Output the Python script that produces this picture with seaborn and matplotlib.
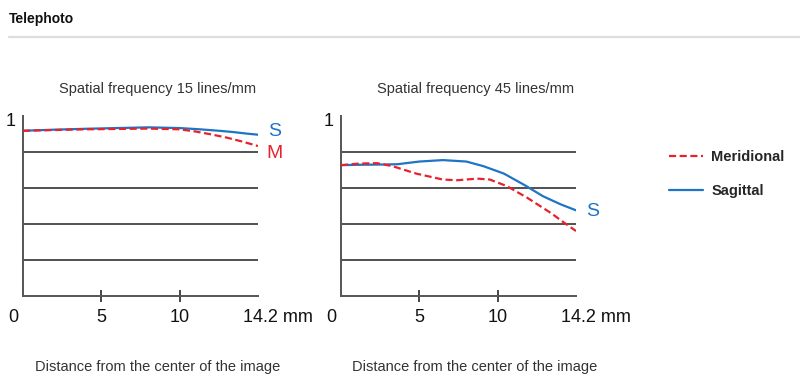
import numpy as np
import pandas as pd
import matplotlib
matplotlib.use('Agg')
import matplotlib.pyplot as plt
import matplotlib.transforms as mtransforms
from matplotlib.lines import Line2D
import seaborn as sns

# ---- data (x: distance on the drawn scale, y: contrast) ----
x_15_sag = [0, 2, 4, 6, 8, 10, 11.3, 12.5, 13.4, 14.2, 15]
y_15_sag = [0.918, 0.924, 0.929, 0.933, 0.937, 0.933, 0.926, 0.918, 0.911, 0.903, 0.896]
x_15_mer = [0, 2, 4, 6, 8, 10, 11, 12, 13, 14, 15]
y_15_mer = [0.918, 0.922, 0.926, 0.928, 0.930, 0.926, 0.914, 0.898, 0.880, 0.858, 0.833]

x_45_sag = [0, 1.2, 2.3, 3.6, 5.0, 6.5, 8.0, 9.1, 10.4, 11.7, 12.9, 14.0, 15]
y_45_sag = [0.727, 0.729, 0.730, 0.732, 0.747, 0.755, 0.747, 0.721, 0.680, 0.617, 0.554, 0.510, 0.476]
x_45_mer = [0, 1.2, 2.3, 3.3, 4.8, 6.5, 7.4, 8.7, 9.5, 10.6, 11.9, 13.4, 14.2, 15]
y_45_mer = [0.727, 0.736, 0.738, 0.721, 0.680, 0.647, 0.643, 0.652, 0.647, 0.610, 0.545, 0.461, 0.410, 0.361]

x_ticks = [0, 5, 10, 15]
x_tick_labels = ['0', '5', '10', '14.2 mm']
y_grid = [0.2, 0.4, 0.6, 0.8, 1.0]

panel_titles = ['Spatial frequency 15 lines/mm', 'Spatial frequency 45 lines/mm']
x_label = 'Distance from the center of the image'

BLUE = '#1f74c6'
RED = '#e8222d'

sns.set_theme(style='white')
plt.rcParams['font.family'] = ['Liberation Sans', 'DejaVu Sans']

fig = plt.figure(figsize=(8, 3.9), dpi=100)
W, H = 800, 390


def fx(px):
    return px / W


def fy(py):
    return 1 - py / H


def shift(dx, dy):
    return mtransforms.ScaledTranslation(dx / 100, dy / 100, fig.dpi_scale_trans)


ax1 = fig.add_axes([fx(23), fy(296), fx(235), 180 / H])
ax2 = fig.add_axes([fx(341), fy(296), fx(235), 180 / H])

dash = (3.2, 1.6)
for ax, xs, ys, xm, ym in [(ax1, x_15_sag, y_15_sag, x_15_mer, y_15_mer),
                           (ax2, x_45_sag, y_45_sag, x_45_mer, y_45_mer)]:
    sns.lineplot(x=xs, y=ys, ax=ax, color=BLUE, lw=1.6, zorder=4)
    sns.lineplot(x=xm, y=ym, ax=ax, color=RED, lw=1.6, zorder=5,
                 linestyle=(0, dash))
    ax.set_xlim(0, 15)
    ax.set_ylim(0, 1)
    for s in ['top', 'right']:
        ax.spines[s].set_visible(False)
    for s in ['left', 'bottom']:
        ax.spines[s].set_color('#555555')
        ax.spines[s].set_linewidth(1.4)
    ax.set_yticks(y_grid)
    ax.set_yticklabels(['', '', '', '', '1'], fontsize=13, color='#111111')
    ax.yaxis.grid(True, color='#333333', lw=1.2)
    ax.get_ygridlines()[-1].set_visible(False)
    ax.set_xticks(x_ticks)
    ax.set_xticklabels(x_tick_labels, fontsize=13, color='#111111')
    ax.tick_params(axis='y', length=0, pad=5)
    ax.tick_params(axis='x', bottom=True, direction='inout', length=9,
                   width=1.4, color='#444444', pad=4.5)
    # tick marks only at 5 and 10
    xt = ax.xaxis.get_major_ticks()
    xt[0].tick1line.set_visible(False)
    xt[-1].tick1line.set_visible(False)
    ylab = ax.get_yticklabels()[-1]
    ylab.set_transform(ylab.get_transform() + shift(0, -4))
    labels = ax.get_xticklabels()
    labels[0].set_transform(labels[0].get_transform() + shift(-10, 0))
    labels[-1].set_transform(labels[-1].get_transform() + shift(20, 0))
    ax.set_facecolor('white')

# end-of-curve labels
ax1.annotate('S', xy=(x_15_sag[-1], y_15_sag[-1]), xytext=(12, 2),
             textcoords='offset points', color=BLUE, fontsize=14,
             ha='center', va='center')
ax1.annotate('M', xy=(x_15_mer[-1], y_15_mer[-1]), xytext=(12, -5),
             textcoords='offset points', color=RED, fontsize=14,
             ha='center', va='center')
ax2.annotate('S', xy=(x_45_sag[-1], y_45_sag[-1]), xytext=(12, -1),
             textcoords='offset points', color=BLUE, fontsize=14,
             ha='center', va='center')

# panel titles and x labels
fig.text(fx(158), fy(89), panel_titles[0], ha='center', va='center',
         fontsize=10.5, color='#333333')
fig.text(fx(476), fy(89), panel_titles[1], ha='center', va='center',
         fontsize=10.5, color='#333333')
fig.text(fx(35), fy(367), x_label, ha='left', va='center',
         fontsize=10.5, color='#333333')
fig.text(fx(352), fy(367), x_label, ha='left', va='center',
         fontsize=10.5, color='#333333')

# header
fig.text(fx(9), fy(19), 'Telephoto', ha='left', va='center',
         fontsize=10, fontweight='bold', color='#111111')
fig.add_artist(Line2D([fx(9), 1], [fy(37), fy(37)], color='#dddddd', lw=1.6))

# legend
handles = [Line2D([], [], color=RED, lw=1.6, linestyle=(0, dash)),
           Line2D([], [], color=BLUE, lw=1.6)]
fig.legend(handles, ['Meridional', 'Sagittal'], loc='center left',
           bbox_to_anchor=(fx(656), fy(174)), frameon=False,
           handlelength=2.3, handletextpad=0.6, labelspacing=1.35,
           prop={'weight': 'bold', 'size': 10.5})

fig.savefig('out.png', dpi=100, facecolor='white')
